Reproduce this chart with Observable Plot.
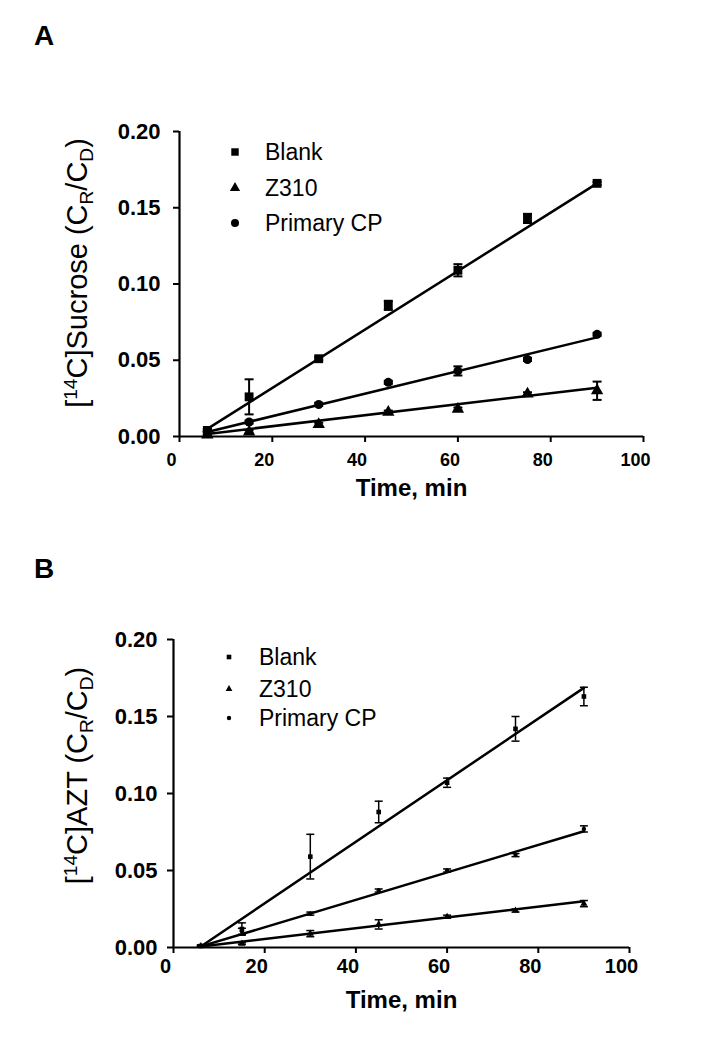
<!DOCTYPE html>
<html>
<head>
<meta charset="utf-8">
<script src="https://cdn.jsdelivr.net/npm/d3@7"></script>
<script src="https://cdn.jsdelivr.net/npm/@observablehq/plot@0.6"></script>
<style>
  html, body { margin: 0; padding: 0; background: white; }
  #wrap { position: relative; width: 703px; height: 1050px; background: white;
          font-family: "Liberation Sans", Arial, sans-serif; }
  #wrap > svg { position: absolute; left: 0; }
</style>
</head>
<body>
<div id="wrap"></div>
<script>
// ---------- data ----------
const times = [6, 15, 30, 45, 60, 75, 90];
const fitTimes = [6, 90];
const seriesNames = ["Blank", "Z310", "Primary CP"];
const seriesSymbols = ["square", "triangle", "circle"];
const xTicks = [0, 20, 40, 60, 80, 100];
const yTicks = [0, 0.05, 0.10, 0.15, 0.20];

// Panel A: [14C]Sucrose
const sucroseBlank    = [0.004, 0.026, 0.051, 0.086, 0.109, 0.143, 0.166];
const sucroseBlankErr = [0.001, 0.0115, 0.001, 0.003, 0.004, 0.003, 0.001];
const sucroseZ310     = [0.001, 0.003, 0.008, 0.016, 0.018, 0.028, 0.030];
const sucroseZ310Err  = [0.0005, 0.001, 0.001, 0.001, 0.001, 0.001, 0.006];
const sucroseCP       = [0.0035, 0.0095, 0.021, 0.0355, 0.043, 0.0505, 0.067];
const sucroseCPErr    = [0.0005, 0.001, 0.001, 0.001, 0.003, 0.001, 0.001];
const sucroseFitBlank = [0.005, 0.166];
const sucroseFitZ310  = [0.0017, 0.032];
const sucroseFitCP    = [0.003, 0.065];

// Panel B: [14C]AZT
const aztBlank    = [0.001, 0.012, 0.059, 0.088, 0.107, 0.142, 0.163];
const aztBlankErr = [0.0005, 0.004, 0.0145, 0.007, 0.003, 0.008, 0.006];
const aztZ310     = [0.001, 0.0025, 0.009, 0.015, 0.020, 0.024, 0.0285];
const aztZ310Err  = [0.0005, 0.0005, 0.002, 0.003, 0.001, 0.001, 0.002];
const aztCP       = [0.001, 0.0105, 0.022, 0.037, 0.050, 0.060, 0.077];
const aztCPErr    = [0.0005, 0.002, 0.001, 0.001, 0.001, 0.001, 0.002];
const aztFitBlank = [0.0007, 0.1686];
const aztFitZ310  = [0.0007, 0.030];
const aztFitCP    = [0.0007, 0.0755];

// ---------- helpers ----------
function rows(meansList, errsList) {
  return seriesNames.flatMap((s, k) =>
    times.map((t, i) => ({time: t, value: meansList[k][i], err: errsList[k][i], series: s})));
}
function fitRows(fitsList) {
  return seriesNames.flatMap((s, k) =>
    fitTimes.map((t, i) => ({time: t, value: fitsList[k][i], series: s})));
}
const cap = {draw(ctx, size) { const w = Math.sqrt(size / Math.PI); ctx.moveTo(-w, 0); ctx.lineTo(w, 0); }};
const FONT = "'Liberation Sans', Arial, sans-serif";
const TITLE_FS = 29;

function makePanel(cfg) {
  const {data, fits, s} = cfg;
  const svg = Plot.plot({
    width: 703,
    height: cfg.height,
    marginTop: cfg.marginTop,
    marginBottom: cfg.marginBottom,
    marginLeft: cfg.marginLeft,
    marginRight: cfg.marginRight,
    style: {fontFamily: FONT, color: "black", background: "white", overflow: "visible"},
    x: {domain: [0, 100]},
    y: {domain: [0, 0.2]},
    marks: [
      Plot.ruleX(data, {x: "time", y1: d => d.value - d.err, y2: d => d.value + d.err, stroke: "black", strokeWidth: s.eb}),
      Plot.dot(data, {x: "time", y: d => d.value + d.err, symbol: cap, r: s.cap, stroke: "black", fill: "none", strokeWidth: s.eb}),
      Plot.dot(data, {x: "time", y: d => d.value - d.err, symbol: cap, r: s.cap, stroke: "black", fill: "none", strokeWidth: s.eb}),
      Plot.line(fits, {x: "time", y: "value", z: "series", stroke: "black", strokeWidth: s.line}),
      ...seriesNames.map((name, k) => Plot.dot(data.filter(d => d.series === name),
        {x: "time", y: "value", symbol: seriesSymbols[k], r: s.r[k], fill: "black", stroke: "none"})),
      Plot.ruleX([0], {y1: 0, y2: 0.2, stroke: "black", strokeWidth: 2.2}),
      Plot.ruleY([0], {x1: 0, x2: 100, stroke: "black", strokeWidth: 2.2}),
      Plot.axisX(xTicks, {tickSize: 6, strokeWidth: 2, fill: "none", label: null}),
      Plot.axisX(xTicks, {tickSize: 0, tickPadding: cfg.xPad, dx: -8, fontSize: cfg.xFont, fontWeight: "bold", label: null}),
      Plot.axisY(yTicks, {tickSize: 6, strokeWidth: 2, fill: "none", label: null}),
      Plot.axisY(yTicks, {tickSize: 0, tickPadding: cfg.yPad, tickFormat: d3.format(".2f"), fontSize: 22, fontWeight: "bold", label: null}),
      Plot.text(["Time, min"], {frameAnchor: "bottom", dy: cfg.xTitleDy, fontSize: 24, fontWeight: "bold", fill: "black"}),
      Plot.text([cfg.yTitleKey], {frameAnchor: "left", dx: 77 - cfg.marginLeft, dy: cfg.yTitleDy, rotate: -90,
        fontSize: TITLE_FS, fill: "black", textAnchor: "middle"})
    ]
  });
  // rich y title with superscript / subscripts
  d3.select(svg).selectAll("text").each(function() {
    if (this.textContent === cfg.yTitleKey) {
      const t = d3.select(this);
      t.text(null).attr("text-anchor", "middle");
      const fs = TITLE_FS;
      for (const [str, kind] of cfg.yTitleParts) {
        const ts = t.append("tspan").text(str);
        if (kind === "sup") ts.attr("baseline-shift", `${(fs * 0.36).toFixed(1)}px`).attr("font-size", fs * 0.66);
        if (kind === "sub") ts.attr("baseline-shift", `${(-fs * 0.22).toFixed(1)}px`).attr("font-size", fs * 0.66);
      }
    }
  });
  return svg;
}

const wrap = document.getElementById("wrap");

const svgA = makePanel({
  data: rows([sucroseBlank, sucroseZ310, sucroseCP], [sucroseBlankErr, sucroseZ310Err, sucroseCPErr]),
  fits: fitRows([sucroseFitBlank, sucroseFitZ310, sucroseFitCP]),
  s: {eb: 2, cap: 4.5, line: 2.5, r: [5, 4.6, 4.5]},
  height: 525, marginTop: 131, marginBottom: 89, marginLeft: 179, marginRight: 60,
  xPad: 17, xFont: 18, yPad: 19, xTitleDy: 59, yTitleDy: -11,
  yTitleKey: "[14C]Sucrose (CR/CD)",
  yTitleParts: [["[", null], ["14", "sup"], ["C]Sucrose (C", null], ["R", "sub"], ["/C", null], ["D", "sub"], [")", null]]
});
svgA.style.top = "0px";
wrap.appendChild(svgA);

const svgB = makePanel({
  data: rows([aztBlank, aztZ310, aztCP], [aztBlankErr, aztZ310Err, aztCPErr]),
  fits: fitRows([aztFitBlank, aztFitZ310, aztFitCP]),
  s: {eb: 1.5, cap: 4, line: 2.5, r: [2.6, 2.6, 2.2]},
  height: 525, marginTop: 114, marginBottom: 103, marginLeft: 173, marginRight: 74,
  xPad: 11, xFont: 20, yPad: 16, xTitleDy: 60, yTitleDy: -18,
  yTitleKey: "[14C]AZT (CR/CD)",
  yTitleParts: [["[", null], ["14", "sup"], ["C]AZT (C", null], ["R", "sub"], ["/C", null], ["D", "sub"], [")", null]]
});
svgB.style.top = "525px";
wrap.appendChild(svgB);

// ---------- overlay: panel letters and legends ----------
const ov = d3.select(wrap).append("svg")
  .attr("width", 703).attr("height", 1050)
  .style("top", "0px").style("pointer-events", "none")
  .attr("font-family", FONT);

ov.append("text").attr("x", 34).attr("y", 45).attr("font-size", 28).attr("font-weight", "bold").text("A");
ov.append("text").attr("x", 34).attr("y", 578).attr("font-size", 28).attr("font-weight", "bold").text("B");

function legend(symX, ys, textX, radii) {
  seriesNames.forEach((name, k) => {
    const sym = [d3.symbolSquare, d3.symbolTriangle, d3.symbolCircle][k];
    ov.append("path")
      .attr("d", d3.symbol(sym, radii[k] * radii[k] * Math.PI)())
      .attr("transform", `translate(${symX},${ys[k]})`)
      .attr("fill", "black");
    ov.append("text").attr("x", textX).attr("y", ys[k]).attr("dy", "0.36em")
      .attr("font-size", 23).text(name);
  });
}
legend(235, [152, 188, 223], 265, [4.2, 3.8, 4.0]);
legend(229, [657, 689, 718], 259, [2.6, 2.5, 2.2]);
</script>
</body>
</html>
